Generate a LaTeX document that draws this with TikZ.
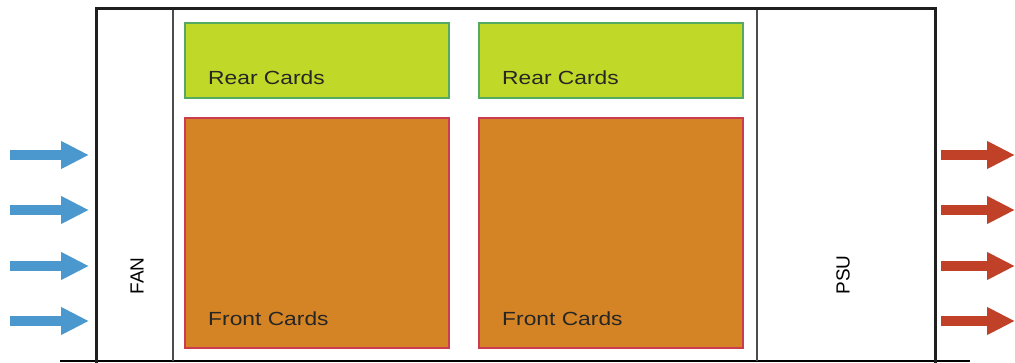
\documentclass[tikz,border=0pt]{standalone}
\usepackage{fontspec}
\setmainfont{Liberation Sans}
\usetikzlibrary{positioning,arrows.meta}

\definecolor{airin}{RGB}{74,152,206}
\definecolor{airout}{RGB}{192,65,40}
\definecolor{rearfill}{RGB}{192,216,40}
\definecolor{rearline}{RGB}{84,170,96}
\definecolor{frontfill}{RGB}{212,132,36}
\definecolor{frontline}{RGB}{204,60,80}

\tikzset{
  rearcard/.style={draw=rearline, fill=rearfill, line width=2pt, minimum width=264pt, minimum height=75pt, anchor=north west, inner sep=0pt},
  frontcard/.style={draw=frontline, fill=frontfill, line width=2pt, minimum width=264pt, minimum height=230pt, anchor=north west, inner sep=0pt},
  cardtext/.style={font=\fontsize{19}{22}\selectfont, text=black!85, anchor=base west, inner sep=0pt, xscale=1.2},
  unittext/.style={font=\fontsize{19}{22}\selectfont, rotate=90, inner sep=0pt},
  flow/.style={line width=10pt, -{Triangle[length=28pt,width=26pt]}}
}

\begin{document}
\begin{tikzpicture}[x=1pt,y=-1pt]
				\useasboundingbox (0,0) rectangle (1015,363);
				
				% chassis
				\draw[line width=1.5pt] (60,361) -- (970,361);
				\draw[line width=3pt, black!88] (96,363) -- (96,9) -- (935,9) -- (935,363);
				\draw[line width=2pt, black!70] (173,10) -- (173,361);
				\draw[line width=2pt, black!70] (757,10) -- (757,361);
				
				% cards
				\node[rearcard] (rear1) at (184,22) {};
				\node[rearcard] (rear2) at (478,22) {};
				\node[frontcard] (front1) at (184,117) {};
				\node[frontcard] (front2) at (478,117) {};
				
				% labels inside
				\node[cardtext, above right=14pt and 24pt of rear1.south west] {Rear Cards};
				\node[cardtext, above right=14pt and 24pt of rear2.south west] {Rear Cards};
				\node[cardtext, above right=23pt and 24pt of front1.south west] {Front Cards};
				\node[cardtext, above right=23pt and 24pt of front2.south west] {Front Cards};
				\node[unittext] (fan) at (137,276) {FAN};
				\node[unittext] (psu) at (843,275) {PSU};
				
				% airflow
				\foreach \y in {155,210,266,321} {
					\coordinate (in\y) at (10,\y);
					\coordinate (fan\y) at (89,\y);
					\coordinate (psu\y) at (941,\y);
					\coordinate (out\y) at (1015,\y);
					\draw[flow, airin] (in\y) -- (fan\y);
					\draw[flow, airout] (psu\y) -- (out\y);
				}
			\end{tikzpicture}
\end{document}
